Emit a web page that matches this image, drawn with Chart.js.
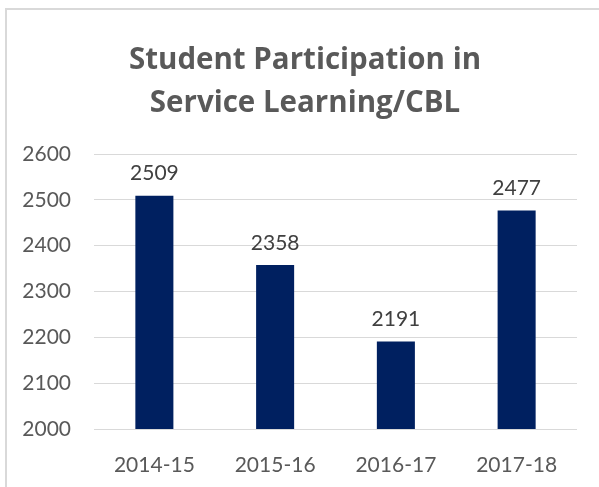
<!DOCTYPE html>
<html>
<head>
<meta charset="utf-8">
<script src="https://cdn.jsdelivr.net/npm/chart.js@4.4.0/dist/chart.umd.min.js"></script>
<style>
  html, body { margin:0; padding:0; background:#fff; }
  #wrap { position:relative; width:599px; height:487px; overflow:hidden; }
  #frame { position:absolute; left:5px; top:8px; width:700px; height:600px;
           border-left:2px solid #d9d9d9; border-top:2px solid #d9d9d9; }
  #c { position:absolute; left:0; top:0; }
</style>
</head>
<body>
<div id="wrap">
  <div id="frame"></div>
  <canvas id="c" width="599" height="487"></canvas>
</div>
<script>
/* ---- data ---- */
const years = ['2014-15', '2015-16', '2016-17', '2017-18'];
const participants = [2509, 2358, 2191, 2477];
const titleLines = ['Student Participation in', 'Service Learning/CBL'];
const yMin = 2000, yMax = 2600, yStep = 100;

const FONT = 'Lato, "Open Sans", sans-serif';

/* ---- title (drawn by hand so it can sit centred on the whole frame) ---- */
const frameTitle = {
  id: 'frameTitle',
  afterDraw(chart) {
    const ctx = chart.ctx;
    ctx.save();
    ctx.font = 'bold 29.5px "Open Sans", Lato, sans-serif';
    ctx.fillStyle = '#595959';
    ctx.textAlign = 'center';
    ctx.textBaseline = 'alphabetic';
    titleLines.forEach((t, i) => ctx.fillText(t, 305, 69 + i * 43));
    ctx.restore();
  }
};

/* ---- value labels above bars ---- */
const barLabels = {
  id: 'barLabels',
  afterDatasetsDraw(chart) {
    const ctx = chart.ctx;
    const meta = chart.getDatasetMeta(0);
    ctx.save();
    ctx.font = `21px ${FONT}`;
    ctx.fillStyle = '#404040';
    ctx.textAlign = 'center';
    ctx.textBaseline = 'middle';
    meta.data.forEach((bar, i) => {
      ctx.fillText(String(participants[i]), bar.x, bar.y - 22);
    });
    ctx.restore();
  }
};

new Chart(document.getElementById('c'), {
  type: 'bar',
  data: {
    labels: years,
    datasets: [{
      data: participants,
      backgroundColor: '#002060',
      barPercentage: 0.315,
      categoryPercentage: 1
    }]
  },
  options: {
    responsive: false,
    animation: false,
    layout: { padding: { left: 15, right: 22, top: 154, bottom: 0 } },
    plugins: {
      legend: { display: false },
      tooltip: { enabled: false },
      title: { display: false }
    },
    scales: {
      x: {
        afterFit: (s) => { s.height = 58; },
        grid: { display: false },
        border: { display: false },
        ticks: { color: '#595959', font: { family: FONT, size: 21 }, padding: 16,
                 maxRotation: 0, minRotation: 0 }
      },
      y: {
        min: yMin, max: yMax,
        afterFit: (s) => { s.width = 79; },
        grid: { color: '#d9d9d9', lineWidth: 1, drawTicks: false },
        border: { display: false },
        ticks: { stepSize: yStep, color: '#595959', font: { family: FONT, size: 21 }, padding: 23,
                 callback: (v) => String(v) }
      }
    }
  },
  plugins: [barLabels, frameTitle]
});
</script>
</body>
</html>
